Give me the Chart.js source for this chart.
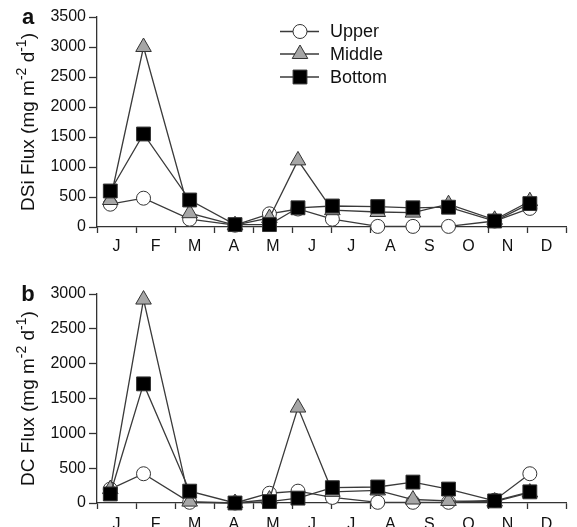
<!DOCTYPE html>
<html>
<head>
<meta charset="utf-8">
<script src="https://cdn.jsdelivr.net/npm/chart.js@4.4.0/dist/chart.umd.min.js"></script>
<style>
  html, body { margin: 0; padding: 0; background: #fff; }
  #wrap { position: relative; width: 577px; height: 527px; overflow: hidden; }
  .box { position: absolute; left: 0; width: 577px; }
</style>
</head>
<body>
<div id="wrap">
  <div class="box" style="top:0;height:255px"><canvas id="chartA" width="577" height="255"></canvas></div>
  <div class="box" style="top:255px;height:272px"><canvas id="chartB" width="577" height="272"></canvas></div>
</div>
<script>
// month labels sit between the month ticks
const months = ['J', 'F', 'M', 'A', 'M', 'J', 'J', 'A', 'S', 'O', 'N', 'D'];
// sampling dates, in months from 1 January
const sampleX = [0.34, 1.19, 2.37, 3.53, 4.41, 5.14, 6.02, 7.18, 8.08, 8.99, 10.17, 11.07];

// panel a : DSi flux
const dsiUpper  = [380, 480, 130, 30, 220, 300, 130, 10, 10, 10, 100, 310];
const dsiMiddle = [450, 3000, 230, 30, 150, 1110, 280, 250, 240, 380, 120, 430];
const dsiBottom = [600, 1550, 450, 40, 40, 320, 350, 340, 320, 330, 100, 390];

// panel b : DC flux
const dcUpper  = [200, 420, 10, 0, 140, 170, 80, 10, 10, 10, 40, 420];
const dcMiddle = [200, 2920, 20, 0, 50, 1370, 160, 180, 50, 30, 20, 150];
const dcBottom = [130, 1710, 170, 0, 20, 70, 220, 230, 300, 200, 30, 160];

const FONT = "'Liberation Sans', Arial, sans-serif";
const INK = '#333333';

const styles = {
    Upper:  { pointStyle: 'circle',   pointRadius: 7,   pointBackgroundColor: '#ffffff', order: 2 },
    Middle: { pointStyle: 'triangle', pointRadius: 9,   pointBackgroundColor: '#a6a6a6', order: 1 },
    Bottom: { pointStyle: 'rect',     pointRadius: 9.8, pointBackgroundColor: '#000000', order: 0 }
};

function toPoints(values) {
    return values.map((v, i) => ({ x: sampleX[i], y: v }));
}

function makeDataset(label, values) {
    const s = styles[label];
    return {
        label: label,
        data: toPoints(values),
        borderColor: '#3a3a3a',
        borderWidth: 1.3,
        pointStyle: s.pointStyle,
        pointRadius: s.pointRadius,
        pointHoverRadius: s.pointRadius,
        pointBackgroundColor: s.pointBackgroundColor,
        pointBorderColor: INK,
        pointBorderWidth: 1,
        order: s.order,
        clip: false,
        fill: false,
        tension: 0
    };
}

// y title with superscripts, panel letter and (optionally) the legend
const decorPlugin = {
    id: 'decor',
    afterDraw(chart, args, opts) {
        const ctx = chart.ctx;
        const area = chart.chartArea;
        ctx.save();
        ctx.fillStyle = '#111';

        // panel letter
        ctx.font = 'bold 22px ' + FONT;
        ctx.textAlign = 'center';
        ctx.textBaseline = 'middle';
        ctx.fillText(opts.letter, 28, area.top + 1);

        // rotated axis title
        const parts = opts.title;
        const base = '19px ' + FONT;
        const sup = '14px ' + FONT;
        let total = 0;
        parts.forEach(p => {
            ctx.font = p.sup ? sup : base;
            p.w = ctx.measureText(p.t).width;
            total += p.w;
        });
        ctx.translate(29, (area.top + area.bottom) / 2 + opts.titleShift);
        ctx.rotate(-Math.PI / 2);
        ctx.textAlign = 'left';
        ctx.textBaseline = 'middle';
        let x = -total / 2;
        parts.forEach(p => {
            ctx.font = p.sup ? sup : base;
            ctx.fillText(p.t, x, p.sup ? -7 : 0);
            x += p.w;
        });
        ctx.restore();

        if (opts.legend) {
            ctx.save();
            const order = ['Upper', 'Middle', 'Bottom'];
            const rows = [31.5, 54, 77];
            order.forEach((name, i) => {
                const ds = chart.data.datasets.find(d => d.label === name);
                const y = rows[i];
                ctx.strokeStyle = '#3a3a3a';
                ctx.lineWidth = 1.3;
                ctx.beginPath();
                ctx.moveTo(280, y);
                ctx.lineTo(319, y);
                ctx.stroke();
                ctx.fillStyle = ds.pointBackgroundColor;
                ctx.strokeStyle = ds.pointBorderColor;
                ctx.lineWidth = 1;
                Chart.helpers.drawPoint(ctx, {
                    pointStyle: ds.pointStyle,
                    radius: ds.pointRadius,
                    rotation: 0,
                    borderWidth: 1
                }, 300, y);
                ctx.fillStyle = '#111';
                ctx.font = '18px ' + FONT;
                ctx.textAlign = 'left';
                ctx.textBaseline = 'middle';
                ctx.fillText(name, 330, y + 1);
            });
            ctx.restore();
        }
    }
};

function makeChart(id, up, mid, bot, yMax, padTop, xHeight, labelPad, decor) {
    const ctx = document.getElementById(id).getContext('2d');
    return new Chart(ctx, {
        type: 'line',
        data: {
            datasets: [
                makeDataset('Upper', up),
                makeDataset('Middle', mid),
                makeDataset('Bottom', bot)
            ]
        },
        options: {
            responsive: false,
            animation: false,
            layout: { padding: { top: padTop, right: 4, left: 0, bottom: 0 } },
            plugins: {
                legend: { display: false },
                tooltip: { enabled: false },
                decor: decor
            },
            scales: {
                x: {
                    type: 'linear',
                    min: 0,
                    max: 12,
                    afterFit: s => { s.height = xHeight; },
                    afterBuildTicks: s => {
                        const t = [];
                        for (let v = 0; v <= 24; v++) t.push({ value: v / 2 });
                        s.ticks = t;
                    },
                    border: { display: true, color: INK, width: 1.3 },
                    grid: {
                        drawOnChartArea: false,
                        drawTicks: true,
                        tickLength: 6,
                        tickWidth: 1.3,
                        tickColor: c => (c.tick && c.tick.value % 1 !== 0) ? 'rgba(0,0,0,0)' : INK
                    },
                    ticks: {
                        autoSkip: false,
                        maxRotation: 0,
                        padding: labelPad,
                        color: '#111',
                        font: { family: FONT, size: 16 },
                        callback: v => (v % 1 !== 0) ? months[Math.floor(v)] : ''
                    }
                },
                y: {
                    min: 0,
                    max: yMax,
                    afterFit: s => { s.width = 97; },
                    border: { display: true, color: INK, width: 1.3 },
                    grid: {
                        drawOnChartArea: false,
                        drawTicks: true,
                        tickLength: 8,
                        tickWidth: 1.3,
                        tickColor: INK
                    },
                    ticks: {
                        stepSize: 500,
                        padding: 3,
                        color: '#111',
                        font: { family: FONT, size: 16 },
                        callback: v => String(v)
                    }
                }
            }
        },
        plugins: [decorPlugin]
    });
}

makeChart('chartA', dsiUpper, dsiMiddle, dsiBottom, 3500, 17, 28, 4, {
    letter: 'a',
    legend: true,
    titleShift: 0,
    title: [{ t: 'DSi Flux (mg m' }, { t: '-2', sup: true }, { t: ' d' }, { t: '-1', sup: true }, { t: ')' }]
});

makeChart('chartB', dcUpper, dcMiddle, dcBottom, 3000, 39, 24, 6, {
    letter: 'b',
    legend: false,
    titleShift: 0,
    title: [{ t: 'DC Flux (mg m' }, { t: '-2', sup: true }, { t: ' d' }, { t: '-1', sup: true }, { t: ')' }]
});
</script>
</body>
</html>
